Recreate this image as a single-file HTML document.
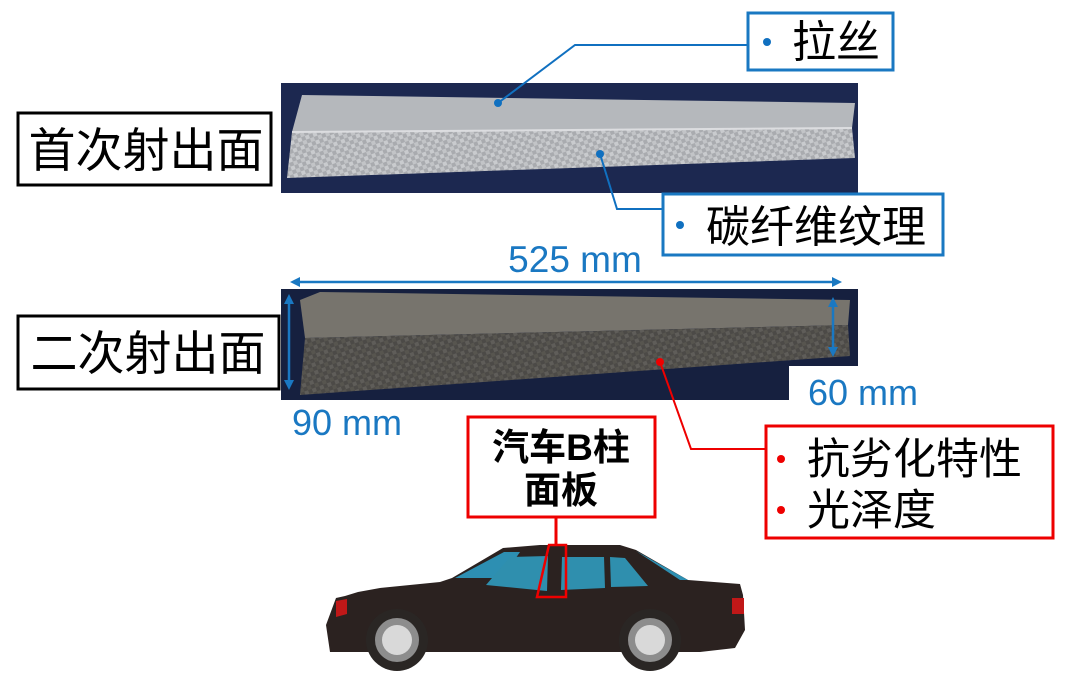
<!DOCTYPE html>
<html><head><meta charset="utf-8"><style>
html,body{margin:0;padding:0;background:#fff;width:1080px;height:674px;overflow:hidden}
svg text{font-family:"Liberation Sans","Noto Sans CJK SC",sans-serif}
</style></head><body>
<svg width="1080" height="674" viewBox="0 0 1080 674" xmlns="http://www.w3.org/2000/svg">
<defs>
<pattern id="cf" width="8" height="8" patternUnits="userSpaceOnUse" patternTransform="rotate(-20)">
<rect width="8" height="8" fill="#a9abaf"/><rect width="4" height="4" fill="#c9cbce"/><rect x="4" y="4" width="4" height="4" fill="#c2c4c7"/></pattern>
<pattern id="cf2" width="8" height="8" patternUnits="userSpaceOnUse" patternTransform="rotate(-20)">
<rect width="8" height="8" fill="#4c4a47"/><rect width="4" height="4" fill="#5f5d59"/><rect x="4" y="4" width="4" height="4" fill="#57554f"/></pattern>
</defs>
<rect x="281" y="83" width="577" height="110" fill="#1c2850"/>
<polygon points="302,95 855,103 852,128 292,132" fill="#b5b8bc"/>
<polygon points="292,132 852,128 855,158 287,178" fill="url(#cf)"/>
<line x1="292" y1="132" x2="852" y2="128" stroke="#dcdde0" stroke-width="2"/>
<rect x="18" y="113" width="253" height="72" fill="#fff" stroke="#000" stroke-width="3"/>
<text x="146" y="167" font-size="47" text-anchor="middle">首次射出面</text>
<polyline points="498,103 575,45 748,45" fill="none" stroke="#1070c0" stroke-width="2"/>
<circle cx="498" cy="103" r="4" fill="#1070c0"/>
<rect x="748" y="13" width="145" height="57" fill="#fff" stroke="#1a78c2" stroke-width="3"/>
<circle cx="767" cy="42" r="4" fill="#1070c0"/>
<text x="792" y="57" font-size="44">拉丝</text>
<polyline points="600,154 617,209 663,209" fill="none" stroke="#1070c0" stroke-width="2"/>
<circle cx="600" cy="154" r="4" fill="#1070c0"/>
<rect x="663" y="194" width="280" height="61" fill="#fff" stroke="#1a78c2" stroke-width="3"/>
<circle cx="680" cy="225" r="4" fill="#1070c0"/>
<text x="706" y="242" font-size="44">碳纤维纹理</text>
<text x="575" y="272" font-size="37" fill="#1a78c2" text-anchor="middle">525 mm</text>
<line x1="296" y1="282" x2="836" y2="282" stroke="#1a78c2" stroke-width="2.5"/>
<polygon points="290,282 300,277 300,287" fill="#1a78c2"/>
<polygon points="842,282 832,277 832,287" fill="#1a78c2"/>
<rect x="281" y="289" width="577" height="111" fill="#16203f"/>
<polygon points="300,300 320,292 850,300 848,325 305,338" fill="#77746d"/>
<polygon points="305,338 848,325 850,356 300,395" fill="url(#cf2)"/>
<rect x="789" y="366" width="70" height="36" fill="#fff"/>
<line x1="289" y1="300" x2="289" y2="384" stroke="#1a78c2" stroke-width="2.5"/>
<polygon points="289,294 284,304 294,304" fill="#1a78c2"/><polygon points="289,390 284,380 294,380" fill="#1a78c2"/>
<line x1="833" y1="303" x2="833" y2="351" stroke="#1a78c2" stroke-width="2.5"/>
<polygon points="833,297 828,307 838,307" fill="#1a78c2"/><polygon points="833,357 828,347 838,347" fill="#1a78c2"/>
<rect x="18" y="316" width="261" height="73" fill="#fff" stroke="#000" stroke-width="3"/>
<text x="148" y="370" font-size="47" text-anchor="middle">二次射出面</text>
<text x="292" y="435" font-size="36" fill="#1a78c2">90 mm</text>
<text x="808" y="405" font-size="36" fill="#1a78c2">60 mm</text>
<polyline points="660,362 691,449 766,449" fill="none" stroke="#e00" stroke-width="2"/>
<circle cx="660" cy="362" r="4" fill="#e00"/>
<rect x="766" y="426" width="287" height="112" fill="#fff" stroke="#e00" stroke-width="3"/>
<circle cx="781" cy="459" r="4" fill="#e00"/><text x="807" y="474" font-size="43">抗劣化特性</text>
<circle cx="781" cy="510" r="4" fill="#e00"/><text x="807" y="525" font-size="43">光泽度</text>
<rect x="468" y="417" width="187" height="100" fill="#fff" stroke="#e00" stroke-width="3"/>
<text x="561" y="460" font-size="37" font-weight="bold" text-anchor="middle">汽车B柱</text>
<text x="561" y="503" font-size="37" font-weight="bold" text-anchor="middle">面板</text>
<line x1="556" y1="517" x2="556" y2="545" stroke="#e00" stroke-width="3"/>
<path d="M336,598 L345,596 L358,592 L380,588 L440,582 L452,578 L503,548 L540,545 L620,545 L636,550 L688,580 L740,584 L743,595 L745,630 L735,648 L700,652 L330,652 L326,625 Z" fill="#2b2220"/>
<polygon points="455,578 504,552 520,552 502,578" fill="#2d8fb2"/>
<polygon points="486,585 510,557 548,556 547,591" fill="#2f8fae"/>
<polygon points="562,557 604,557 605,588 561,590" fill="#2f8fae"/>
<polygon points="610,557 625,558 648,586 611,587" fill="#2f8fae"/>
<polygon points="636,551 688,580 680,580" fill="#2d8fb2"/>
<polygon points="336,601 347,599 347,614 336,617" fill="#c01818"/>
<rect x="732" y="598" width="12" height="16" fill="#c01818"/>
<polygon points="549,545 566,545 566,597 537,597" fill="none" stroke="#e00" stroke-width="2.5"/>
<circle cx="397" cy="640" r="31" fill="#2a2624"/><circle cx="397" cy="640" r="22" fill="#8d8d8d"/><circle cx="397" cy="640" r="15" fill="#d9d9d9"/>
<circle cx="650" cy="640" r="31" fill="#2a2624"/><circle cx="650" cy="640" r="22" fill="#8d8d8d"/><circle cx="650" cy="640" r="15" fill="#d9d9d9"/>
</svg>
</body></html>
